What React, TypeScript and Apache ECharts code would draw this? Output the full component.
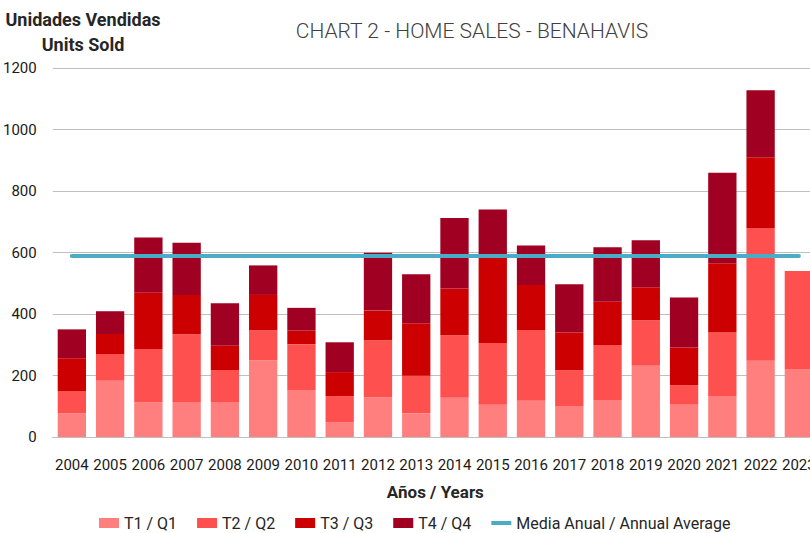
import React, { useEffect, useRef } from "react";
import * as echarts from "echarts";

const years = ["2004","2005","2006","2007","2008","2009","2010","2011","2012","2013","2014","2015","2016","2017","2018","2019","2020","2021","2022","2023"];
const q1 = [77, 183, 112, 114, 114, 249, 153, 47, 129, 77, 128, 105, 118, 101, 120, 232, 105, 133, 248, 221];
const q2 = [72, 87, 174, 220, 104, 97, 149, 86, 185, 122, 203, 201, 230, 116, 179, 148, 64, 207, 432, 319];
const q3 = [107, 65, 183, 128, 79, 116, 44, 78, 97, 171, 152, 276, 146, 123, 141, 107, 122, 225, 230, null];
const q4 = [94, 74, 180, 170, 138, 96, 74, 97, 188, 159, 229, 158, 129, 157, 177, 153, 163, 294, 218, null];
const annualAverage = [589, 589, 589, 589, 589, 589, 589, 589, 589, 589, 589, 589, 589, 589, 589, 589, 589, 589, 589, 589];
const yTicks = { min: 0, max: 1200, interval: 200 };

const FONT = "Roboto";

export default function App() {
  const ref = useRef<HTMLDivElement>(null);
  useEffect(() => {
    if (!ref.current) return;
    const chart = echarts.init(ref.current, null, { renderer: "svg" });
    const barBase = { type: "bar", stack: "total", barCategoryGap: "26%" };
    chart.setOption({
      animation: false,
      backgroundColor: "#ffffff",
      textStyle: { fontFamily: FONT },
      title: [
        {
          text: "CHART 2 - HOME SALES - BENAHAVIS",
          left: 472,
          top: 20,
          padding: 0,
          textAlign: "center",
          textStyle: { fontFamily: FONT, fontWeight: 300, fontSize: 21, color: "#404040" },
        },
        {
          text: "Unidades Vendidas\nUnits Sold",
          left: 83,
          top: 7,
          padding: 0,
          textAlign: "center",
          textStyle: { fontFamily: FONT, fontWeight: "bold", fontSize: 18, lineHeight: 25, color: "#262626" },
        },
      ],
      legend: {
        left: 94,
        top: 510,
        itemWidth: 20,
        itemHeight: 10,
        itemGap: 20,
        textStyle: { fontFamily: FONT, fontSize: 16, color: "#262626" },
        data: [
          { name: "T1 / Q1", icon: "rect" },
          { name: "T2 / Q2", icon: "rect" },
          { name: "T3 / Q3", icon: "rect" },
          { name: "T4 / Q4", icon: "rect" },
          { name: "Media Anual / Annual Average", icon: "path://M0,0 L20,0 L20,4 L0,4 Z" },
        ],
      },
      grid: { left: 51, top: 68, right: 22, bottom: 96, containLabel: false },
      xAxis: {
        type: "category",
        data: years,
        name: "Años / Years",
        nameLocation: "middle",
        nameGap: 46,
        nameTextStyle: { fontFamily: FONT, fontWeight: "bold", fontSize: 17, color: "#262626" },
        axisLine: { show: true, lineStyle: { color: "#bfbfbf" } },
        axisTick: { show: false },
        axisLabel: { interval: 0, margin: 20, fontFamily: FONT, fontSize: 15, color: "#1a1a1a" },
      },
      yAxis: {
        type: "value",
        min: yTicks.min,
        max: yTicks.max,
        interval: yTicks.interval,
        axisLine: { show: false },
        axisTick: { show: false },
        axisLabel: {
          margin: 16,
          fontFamily: FONT,
          fontSize: 15,
          color: "#1a1a1a",
          formatter: (v: number) => String(v),
        },
        splitLine: { lineStyle: { color: "#bfbfbf", width: 1 } },
      },
      series: [
        { ...barBase, name: "T1 / Q1", data: q1, itemStyle: { color: "#ff7f7f" } },
        { ...barBase, name: "T2 / Q2", data: q2, itemStyle: { color: "#ff5050" } },
        { ...barBase, name: "T3 / Q3", data: q3, itemStyle: { color: "#cc0000" } },
        { ...barBase, name: "T4 / Q4", data: q4, itemStyle: { color: "#a00021" } },
        {
          type: "line",
          name: "Media Anual / Annual Average",
          data: annualAverage,
          symbol: "none",
          showSymbol: false,
          z: 5,
          lineStyle: { color: "#4bacc6", width: 4, cap: "round" },
          itemStyle: { color: "#4bacc6" },
        },
      ],
    });
    return () => chart.dispose();
  }, []);
  return (
    <div style={{ position: "fixed", left: 0, top: 0, width: 810, height: 533, overflow: "hidden", background: "#fff" }}>
      <div ref={ref} style={{ width: 840, height: 533 }} />
    </div>
  );
}
